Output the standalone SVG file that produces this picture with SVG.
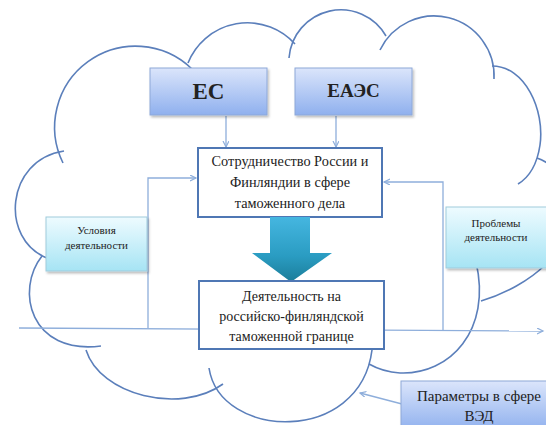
<svg xmlns="http://www.w3.org/2000/svg" width="546" height="425" viewBox="0 0 546 425">
<style>
.cloud{fill:none;stroke:#5b7fbb;stroke-width:1.6}
.con{fill:none;stroke:#8eaedb;stroke-width:1.3}
.t{fill:#222;text-anchor:middle}
.white{fill:#fff;stroke:#4f77b4;stroke-width:2}
.blue{fill:url(#gBlue);stroke:#8ea8d8;stroke-width:1}
.cyan{fill:url(#gCyan);stroke:#9fcbdc;stroke-width:1}
</style>
<defs>
<linearGradient id="gBlue" x1="0" y1="0" x2="0" y2="1">
<stop offset="0" stop-color="#dbe5fb"/>
<stop offset="1" stop-color="#8fb0ee"/>
</linearGradient>
<linearGradient id="gCyan" x1="0" y1="0" x2="0" y2="1">
<stop offset="0" stop-color="#eefbff"/>
<stop offset="1" stop-color="#a6e4f4"/>
</linearGradient>
<linearGradient id="gArrow" x1="0" y1="0" x2="0" y2="1">
<stop offset="0" stop-color="#45b6e0"/>
<stop offset="0.6" stop-color="#2a9cc2"/>
<stop offset="1" stop-color="#1b7d99"/>
</linearGradient>
<filter id="sh" x="-10%" y="-10%" width="130%" height="140%">
<feDropShadow dx="1.5" dy="2" stdDeviation="1.2" flood-color="#000" flood-opacity="0.25"/>
</filter>
<marker id="ar" markerWidth="8" markerHeight="8" refX="6" refY="3" orient="auto" markerUnits="userSpaceOnUse">
<path d="M0,0 L6,3 L0,6" fill="none" stroke="#8eaedb" stroke-width="1.2"/>
</marker>
</defs>

<g id="cloud">
<path class="cloud" d="M63,163 A81,81 0 0 1 192,69"/>
<path class="cloud" d="M188,63 A64,64 0 0 1 295,44"/>
<path class="cloud" d="M289,58 A52,52 0 0 1 386,36"/>
<path class="cloud" d="M380,50 A60,60 0 0 1 494,79"/>
<path class="cloud" d="M492,66 C525,66 545,110 540,145 C537,165 528,178 518,184"/>
<path class="cloud" d="M537,158 C575,170 580,240 545,265 C530,280 505,294 481,301"/>
<path class="cloud" d="M476,262 C492,330 450,375 400,373 C385,372 376,368 369,364"/>
<path class="cloud" d="M209,368 C220,440 360,445 372,350"/>
<path class="cloud" d="M86,350 C100,395 180,415 223,384"/>
<path class="cloud" d="M42,256 C15,290 30,355 101,346"/>
<path class="cloud" d="M64,151 C5,160 0,240 47,258"/>
</g>

<g id="connectors">
<path class="con" d="M19,328 L543,331" marker-end="url(#ar)"/>
<path class="con" d="M226,116 V147" marker-end="url(#ar)"/>
<path class="con" d="M336,116 V147" marker-end="url(#ar)"/>
<path class="con" d="M148,328 V178 H196" marker-end="url(#ar)"/>
<path class="con" d="M443,330 V182 H384" marker-end="url(#ar)"/>
<path class="con" d="M402,404 L360,393" marker-end="url(#ar)"/>
</g>

<g id="es">
<rect class="blue" x="150" y="68" width="117" height="47" filter="url(#sh)"/>
<text class="t" font-family="Liberation Serif, DejaVu Serif, serif" x="208.5" y="99" font-size="23" font-weight="bold">ЕС</text>
</g>

<g id="eaes">
<rect class="blue" x="295" y="68" width="117" height="47" filter="url(#sh)"/>
<text class="t" font-family="Liberation Serif, DejaVu Serif, serif" x="353.5" y="97" font-size="19" font-weight="bold">ЕАЭС</text>
</g>

<g id="coop">
<rect class="white" x="198" y="148" width="184" height="69"/>
<text class="t" font-family="Liberation Serif, DejaVu Serif, serif" font-size="14.3"><tspan x="290" y="166">Сотрудничество России и</tspan><tspan x="290" y="187">Финляндии в сфере</tspan><tspan x="290" y="208">таможенного дела</tspan></text>
</g>

<g id="big-arrow">
<polygon points="270,217 310,217 310,253 332,253 291,282 252,253 270,253" fill="url(#gArrow)"/>
</g>

<g id="border">
<rect class="white" x="199" y="281" width="185" height="68"/>
<text class="t" font-family="Liberation Serif, DejaVu Serif, serif" font-size="14"><tspan x="291.5" y="301">Деятельность на</tspan><tspan x="291.5" y="321">российско-финляндской</tspan><tspan x="291.5" y="341">таможенной границе</tspan></text>
</g>

<g id="conditions">
<rect class="cyan" x="46" y="217" width="101" height="54" filter="url(#sh)"/>
<text class="t" font-family="Liberation Serif, DejaVu Serif, serif" font-size="11"><tspan x="96.5" y="234">Условия</tspan><tspan x="96.5" y="249">деятельности</tspan></text>
</g>

<g id="problems">
<rect class="cyan" x="446" y="207" width="104" height="61" filter="url(#sh)"/>
<text class="t" font-family="Liberation Serif, DejaVu Serif, serif" font-size="11"><tspan x="496" y="227">Проблемы</tspan><tspan x="496" y="241">деятельности</tspan></text>
</g>

<g id="params">
<rect class="blue" x="401" y="381" width="150" height="50" filter="url(#sh)"/>
<text class="t" font-family="Liberation Serif, DejaVu Serif, serif" font-size="15"><tspan x="479" y="401">Параметры в сфере</tspan><tspan x="479" y="421">ВЭД</tspan></text>
</g>
</svg>
